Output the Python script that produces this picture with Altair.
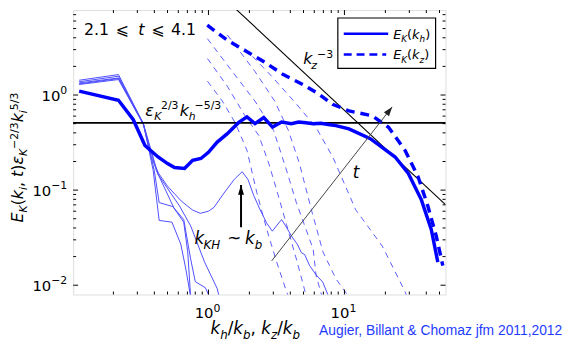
import altair as alt
import pandas as pd

# ---------------- axis ranges ----------------
X_DOMAIN = [0.1012, 55.34]
Y_DOMAIN = [0.007987, 7.82]
W, H = 377, 288

x_major = [1, 10]
x_major_exp = ["0", "1"]
x_minor = [0.2, 0.3, 0.4, 0.5, 0.6, 0.7, 0.8, 0.9, 2, 3, 4, 5, 6, 7, 8, 9, 20, 30, 40, 50]
y_major = [0.01, 0.1, 1]
y_major_exp = ["−2", "−1", "0"]
y_minor = [0.02, 0.03, 0.04, 0.05, 0.06, 0.07, 0.08, 0.09,
           0.2, 0.3, 0.4, 0.5, 0.6, 0.7, 0.8, 0.9, 2, 3, 4, 5, 6, 7]

# ---------------- thick curves ----------------
kh_x = [0.112, 0.218, 0.28, 0.341, 0.426, 0.5, 0.563, 0.667, 0.765, 0.88, 1.0, 1.16, 1.37,
        1.67, 1.92, 2.2, 2.55, 2.96, 3.45, 4.07, 4.6, 5.2, 5.9, 6.7, 7.6, 8.65, 10.8, 15.5,
        23.6, 29.5, 36.8, 43.5, 48.6]
kh_y = [1.10, 0.88, 0.55, 0.295, 0.223, 0.19, 0.173, 0.169, 0.206, 0.215, 0.25, 0.32, 0.39,
        0.515, 0.59, 0.50, 0.58, 0.46, 0.52, 0.50, 0.52, 0.51, 0.50, 0.505, 0.49, 0.477, 0.44,
        0.347, 0.223, 0.150, 0.079, 0.0386, 0.0175]

kz_x = [0.98, 1.37, 1.82, 2.54, 3.55, 4.95, 6.5, 8.18, 10.8, 16.0, 21.1, 27.9, 34.8, 41.1, 47.3, 52.9]
kz_y = [5.42, 3.79, 2.98, 2.25, 1.64, 1.29, 1.02, 0.80, 0.68, 0.605, 0.458, 0.262, 0.138,
        0.0676, 0.033, 0.0161]

# ---------------- thin solid curves (E_K(k_h) earlier times) ----------------
thin_solid = {
    "A": ([0.112, 0.218, 0.332, 0.38, 0.43, 0.50, 0.63, 0.76, 0.87, 1.0, 1.1, 1.3, 1.55, 1.77,
           1.95, 2.15, 2.4, 2.68, 2.95, 3.2, 3.45, 3.7, 4.07, 4.5, 4.82, 5.1, 5.54, 6.2, 6.92, 7.6],
          [1.38, 1.575, 0.5, 0.22, 0.15, 0.11, 0.077, 0.062, 0.057, 0.06, 0.066, 0.093, 0.13, 0.156,
           0.13, 0.088, 0.062, 0.045, 0.037, 0.043, 0.049, 0.042, 0.033, 0.027, 0.022, 0.021,
           0.0161, 0.0128, 0.0108, 0.0078]),
    "B": ([0.112, 0.218, 0.332, 0.392, 0.434, 0.539, 0.626, 0.681, 0.74],
          [1.43, 1.64, 0.5, 0.162, 0.048, 0.046, 0.027, 0.0149, 0.0075]),
    "C": ([0.112, 0.218, 0.332, 0.399, 0.434, 0.548, 0.658, 0.704, 0.74],
          [1.34, 1.51, 0.5, 0.162, 0.074, 0.067, 0.046, 0.0224, 0.0075]),
    "D": ([0.112, 0.218, 0.332, 0.413, 0.557, 0.658, 0.74, 0.8, 0.95, 1.02],
          [1.31, 1.49, 0.49, 0.162, 0.065, 0.049, 0.0188, 0.0109, 0.0094, 0.0075]),
    "E": ([0.112, 0.218, 0.335, 0.426, 0.613, 0.74, 0.935, 1.16, 1.2],
          [1.29, 1.455, 0.48, 0.146, 0.068, 0.042, 0.0176, 0.0092, 0.0075]),
}

# ---------------- thin dashed curves (E_K(k_z) earlier times) ----------------
thin_dashed = {
    "a": ([0.983, 1.264, 1.571, 1.920, 2.269, 2.683, 3.171, 3.748, 3.875],
          [1.398, 0.866, 0.512, 0.262, 0.0938, 0.0387, 0.0176, 0.0086, 0.0076]),
    "b": ([0.983, 1.374, 1.857, 2.346, 2.773, 3.171, 3.748, 4.43, 5.063, 5.236],
          [2.42, 1.24, 0.605, 0.375, 0.192, 0.1007, 0.0436, 0.01886, 0.00924, 0.0076]),
    "c": ([0.983, 1.494, 2.194, 3.015, 3.748, 4.43, 5.886, 6.19, 6.842],
          [3.91, 1.775, 0.866, 0.423, 0.1625, 0.0739, 0.024, 0.01258, 0.0076]),
    "d": ([1.374, 2.194, 3.066, 3.875, 4.658, 5.788, 6.959, 8.648, 10.74],
          [4.30, 1.775, 0.866, 0.423, 0.192, 0.0581, 0.0223, 0.0117, 0.0076]),
    "e": ([1.857, 2.916, 4.43, 6.19, 8.226, 12.08, 18.97, 27.87, 28.82],
          [3.08, 1.575, 0.806, 0.4545, 0.2217, 0.0624, 0.0258, 0.0086, 0.0076]),
}

# ---------------- reference lines / arrows ----------------
plateau_y = [0.51]
k3_x = [1.563, 55.34]
k3_y = [8.2, 0.0704]
t_arrow_x = [2.916, 22.43]
t_arrow_y = [0.018, 0.75]
kh_arrow_x = [1.736, 1.736]
kh_arrow_y = [0.0406, 0.1135]

# ---------------- helpers ----------------
xs = alt.Scale(type="log", domain=X_DOMAIN, nice=False)
ys = alt.Scale(type="log", domain=Y_DOMAIN, nice=False)

X = lambda f="x": alt.X(f"{f}:Q", scale=xs, axis=None)
Y = lambda f="y": alt.Y(f"{f}:Q", scale=ys, axis=None)


def series_df(d):
    rows = []
    for key, (xv, yv) in d.items():
        for i, (a, b) in enumerate(zip(xv, yv)):
            rows.append({"id": key, "o": i, "x": a, "y": b})
    return pd.DataFrame(rows)


def line_layer(df, color, width, dash=None, clip=True, opacity=1):
    kw = dict(color=color, strokeWidth=width, clip=clip, opacity=opacity)
    if dash:
        kw["strokeDash"] = dash
    return alt.Chart(df).mark_line(**kw).encode(x=X(), y=Y(), detail="id:N", order="o:Q")


EMW = {"0": .636, "1": .636, "2": .636, "3": .636, "4": .636, "5": .636, "/": .337,
       "−": .838, "(": .39, ")": .39, ",": .318, " ": .318, "E": .632, "K": .656, "k": .579,
       "h": .634, "i": .278, "t": .392, "b": .635, "z": .525, "ε": .54, "~": .838, "H": .752,
       ".": .318, "⩽": .838}


def twidth(s, size):
    return sum(EMW.get(c, 0.6) for c in s) * size


def rich(parts, base, ax, ay, angle=0, data=False, color="black", font="DejaVu Sans",
         sub_scale=0.68, sup_scale=0.68, sub_dy=0.28, sup_dy=0.42, dx0=0.0, dy0=0.0,
         xdata=None, ydata=None):
    layers = []
    cur = dx0
    one = pd.DataFrame({"x": [ax], "y": [ay]})
    xd = data if xdata is None else xdata
    yd = data if ydata is None else ydata
    for part in parts:
        txt, kind = part[0], part[1]
        if len(part) > 2:
            cur = dx0 + part[2]
        size, dy, style = base, 0, "normal"
        if kind == "i":
            style = "italic"
        elif kind == "sub":
            size, dy, style = round(base * sub_scale), base * sub_dy, "italic"
        elif kind == "sup":
            size, dy = round(base * sup_scale), -base * sup_dy
        mk = dict(text=txt, align="left", baseline="alphabetic", dx=cur, dy=dy + dy0,
                  fontSize=size, fontStyle=style, font=font, color=color)
        if angle:
            mk["angle"] = angle
        enc = dict(x=X() if xd else alt.value(ax), y=Y() if yd else alt.value(ay))
        layers.append(alt.Chart(one).mark_text(**mk).encode(**enc))
        cur += twidth(txt, size)
    return layers


layers = []

# thin curves
layers.append(line_layer(series_df(thin_dashed), "#5c5cff", 1.0, [6, 5]))
layers.append(line_layer(series_df(thin_solid), "#4d4dff", 1.0))

# reference black lines
layers.append(alt.Chart(pd.DataFrame({"y": plateau_y})).mark_rule(color="black", strokeWidth=1.8)
              .encode(y=Y()))
layers.append(line_layer(pd.DataFrame({"id": "k3", "o": [0, 1], "x": k3_x, "y": k3_y}), "black", 1.1))

# thick curves
layers.append(line_layer(pd.DataFrame({"id": "kz", "o": range(len(kz_x)), "x": kz_x, "y": kz_y}),
                         "#0000ff", 3.5, [9, 6]))
layers.append(line_layer(pd.DataFrame({"id": "kh", "o": range(len(kh_x)), "x": kh_x, "y": kh_y}),
                         "#0000ff", 3.5))

# arrows
layers.append(line_layer(pd.DataFrame({"id": "t", "o": [0, 1], "x": t_arrow_x, "y": t_arrow_y}),
                         "#444444", 1.0))
layers.append(alt.Chart(pd.DataFrame({"x": [t_arrow_x[1]], "y": [t_arrow_y[1]]}))
              .mark_point(shape="M0,0 L-0.35,1 L0.35,1 Z", filled=True, color="#222222",
                          size=350, angle=38, opacity=1).encode(x=X(), y=Y()))
layers.append(line_layer(pd.DataFrame({"id": "kh", "o": [0, 1], "x": kh_arrow_x, "y": kh_arrow_y}),
                         "black", 2.0))
layers.append(alt.Chart(pd.DataFrame({"x": [kh_arrow_x[1]], "y": [kh_arrow_y[1]]}))
              .mark_point(shape="M0,0 L-0.3,1 L0.3,1 Z", filled=True, color="black",
                          size=400, opacity=1).encode(x=X(), y=Y()))


# inward ticks on all four sides
def tick_layers(vals, length, axis):
    df = pd.DataFrame({"x": vals, "y": vals})
    out = []
    if axis == "x":
        out.append(alt.Chart(df).mark_rule(color="black", strokeWidth=1)
                   .encode(x=X(), y=alt.value(H), y2=alt.value(H - length)))
        out.append(alt.Chart(df).mark_rule(color="black", strokeWidth=1)
                   .encode(x=X(), y=alt.value(0), y2=alt.value(length)))
    else:
        out.append(alt.Chart(df).mark_rule(color="black", strokeWidth=1)
                   .encode(y=Y(), x=alt.value(0), x2=alt.value(length)))
        out.append(alt.Chart(df).mark_rule(color="black", strokeWidth=1)
                   .encode(y=Y(), x=alt.value(W), x2=alt.value(W - length)))
    return out


layers += tick_layers(x_major, 5, "x") + tick_layers(x_minor, 3, "x")
layers += tick_layers(y_major, 5, "y") + tick_layers(y_minor, 3, "y")

# tick labels: 10 with raised exponent
for v, e in zip(x_major, x_major_exp):
    layers += rich([("10", "n"), (e, "sup")], 15, v, 0, xdata=True, ydata=False,
                   sup_scale=0.75, sup_dy=0.45, dx0=-14)
    layers[-1] = layers[-1].encode(y=alt.value(H + 24))
    layers[-2] = layers[-2].encode(y=alt.value(H + 24))
for v, e in zip(y_major, y_major_exp):
    wsup = twidth(e, round(15 * 0.75))
    layers += rich([("10", "n"), (e, "sup")], 15, -6 - wsup - 19.1, v, xdata=False, ydata=True,
                   sup_scale=0.75, sup_dy=0.45, dy0=6)

# annotations (data anchored)
layers += rich([("2.1", "n", 0), ("⩽", "n", 32), ("t", "i", 55), ("⩽", "n", 68), ("4.1", "n", 88)],
               16, 0.1216, 4.25, data=True)
layers += rich([("ε", "i", 0), ("K", "sub", 9), ("2/3", "sup", 16), ("k", "i", 35), ("h", "sub", 44),
                ("−5/3", "sup", 50)], 16, 0.3429, 0.605, data=True)
layers += rich([("k", "i", 0), ("z", "sub", 8), ("−3", "sup", 14)], 16, 4.98, 2.099, data=True)
layers += rich([("t", "i")], 17, 11.49, 0.1342, data=True)
layers += rich([("k", "i", 0), ("KH", "sub", 9), ("~", "n", 33), ("k", "i", 51), ("b", "sub", 61)],
               17, 0.791, 0.02704, data=True)

# legend (pixel positioned)
one = pd.DataFrame({"a": [0]})
layers.append(alt.Chart(one).mark_rect(fill="white", stroke="black", strokeWidth=1.2)
              .encode(x=alt.value(268), x2=alt.value(367), y=alt.value(8), y2=alt.value(59)))
layers.append(alt.Chart(one).mark_rule(color="#0000ff", strokeWidth=2.6)
              .encode(x=alt.value(274), x2=alt.value(319), y=alt.value(24)))
layers.append(alt.Chart(one).mark_rule(color="#0000ff", strokeWidth=2.6, strokeDash=[8, 5])
              .encode(x=alt.value(274), x2=alt.value(317), y=alt.value(45)))
layers += rich([("E", "i"), ("K", "sub"), ("(", "n"), ("k", "i"), ("h", "sub"), (")", "n")], 13, 324, 29)
layers += rich([("E", "i"), ("K", "sub"), ("(", "n"), ("k", "i"), ("z", "sub"), (")", "n")], 13, 324, 50)

# axis titles and credit
layers += rich([("k", "i"), ("h", "sub"), ("/", "n"), ("k", "i"), ("b", "sub"), (", ", "n"),
                ("k", "i"), ("z", "sub"), ("/", "n"), ("k", "i"), ("b", "sub")], 17, 139, 328)
layers += rich([("E", "i"), ("K", "sub"), ("(", "n"), ("k", "i"), ("i", "sub"), (", ", "n"), ("t", "i"),
                (")", "n"), ("ε", "i"), ("K", "sub"), ("−2/3", "sup"), ("k", "i"), ("i", "sub"),
                ("5/3", "sup")], 16, -51, 215, angle=270, sub_scale=0.66, sup_scale=0.66,
               sub_dy=0.25, sup_dy=0.32)
layers.append(alt.Chart(one).mark_text(text="Augier, Billant & Chomaz jfm 2011,2012", align="left",
                                       baseline="alphabetic", font="Liberation Sans", fontSize=14,
                                       color="#1f3cff")
              .encode(x=alt.value(249), y=alt.value(329)))

chart = alt.layer(*layers).properties(
    width=W, height=H,
    autosize=alt.AutoSizeParams(type="none"),
    padding={"left": 66, "top": 0, "right": 119, "bottom": 46},
).configure_view(stroke="black", strokeWidth=1.5).configure(background="white")

chart.save("out.html", embed_options={"renderer": "svg", "actions": False})
